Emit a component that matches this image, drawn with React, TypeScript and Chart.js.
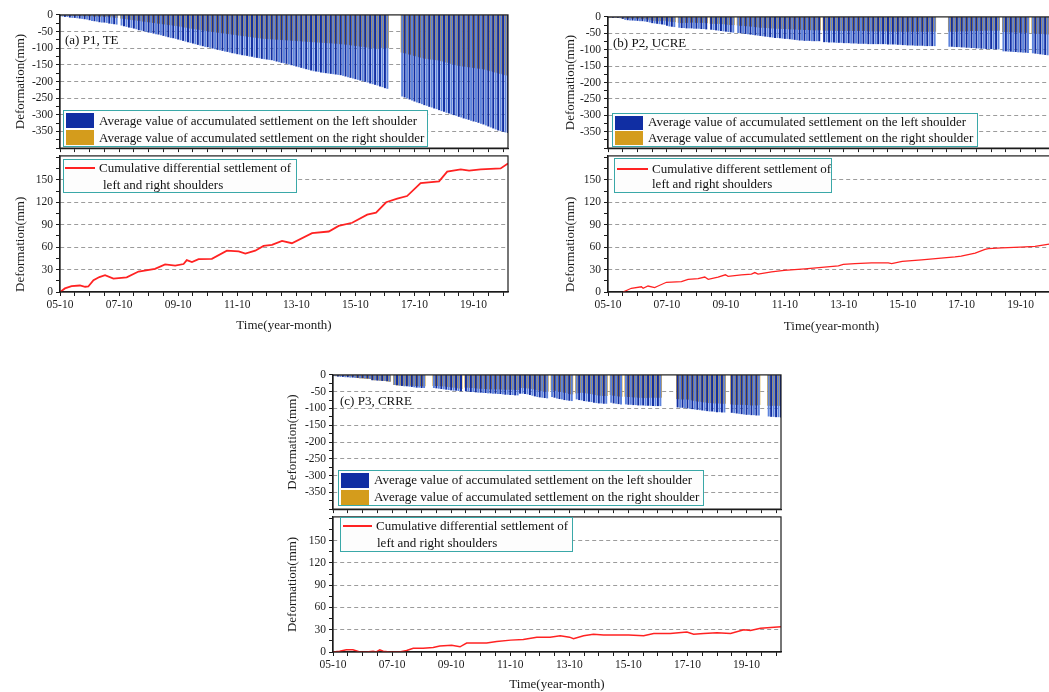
import React, { useEffect, useRef } from 'react';
import { Chart, registerables } from 'chart.js';
Chart.register(...registerables);

const FONT = '"Liberation Serif", "Times New Roman", serif';

// ---------------- data ----------------
// x axis: months since 2005-10
const xTickLabels = ['05-10', '07-10', '09-10', '11-10', '13-10', '15-10', '17-10', '19-10'];
const topTickLabels = [0, -50, -100, -150, -200, -250, -300, -350];
const bottomTickLabels = [0, 30, 60, 90, 120, 150];

// (a) P1, TE — monthly average accumulated settlement (mm)
const leftA = [
  -3, -4, -5, -5, -7, -8, -8, -9, -10, -11, -12, -13,
  -15, -17, -18, -19, -21, -22, -22, -23, -25, -26, -27, -28,
  null, -31, -33, -35, -37, -38, -40, -42, -45, -46, -48, -50,
  -52, -53, -55, -57, -58, -60, -62, -64, -66, -68, -69, -71,
  -73, -75, -77, -79, -81, -83, -85, -87, -89, -91, -93, -95,
  -96, -98, -100, -102, -104, -105, -107, -109, -110, -112, -114, -115,
  -117, -118, -120, -121, -122, -124, -125, -127, -128, -129, -131, -132,
  -133, -134, -135, -137, -139, -141, -143, -144, -146, -148, -150, -152,
  -154, -156, -158, -160, -162, -164, -166, -168, -169, -170, -172, -173,
  -174, -175, -176, -177, -178, -179, -180, -182, -184, -186, -188, -190,
  -192, -194, -196, -198, -200, -202, -205, -207, -209, -211, -214, -216,
  -219, -221, null, null, null, null, null, -244, -247, -250, -253, -256,
  -259, -262, -264, -267, -270, -272, -275, -277, -280, -282, -285, -288,
  -290, -293, -295, -298, -300, -302, -305, -307, -310, -312, -314, -317,
  -319, -321, -323, -326, -328, -331, -334, -337, -340, -343, -346, -348,
  -350, -352, -354,
];
const rightA = [
  -1, -1, -1, -1, -2, -2, -2, -2, -2, -3, -3, -3,
  -3, -3, -4, -4, -4, -5, -5, -5, -6, -6, -7, -8,
  null, -10, -11, -12, -13, -14, -15, -16, -17, -18, -19, -20,
  -21, -22, -23, -24, -25, -26, -27, -28, -29, -30, -31, -32,
  -33, -34, -36, -37, -38, -40, -41, -42, -43, -44, -46, -47,
  -48, -49, -50, -51, -52, -53, -54, -55, -56, -57, -58, -59,
  -60, -61, -62, -63, -64, -65, -66, -67, -68, -69, -70, -71,
  -71, -72, -72, -73, -73, -74, -74, -75, -75, -76, -76, -77,
  -77, -78, -78, -79, -79, -80, -80, -81, -81, -82, -82, -83,
  -83, -84, -84, -85, -85, -86, -87, -87, -88, -89, -90, -91,
  -92, -93, -94, -95, -96, -97, -98, -99, -100, -100, -99, -98,
  -98, -99, null, null, null, null, null, -112, -114, -116, -118, -120,
  -122, -124, -126, -128, -130, -131, -132, -133, -134, -135, -136, -138,
  -140, -142, -144, -146, -148, -150, -152, -153, -154, -155, -156, -157,
  -158, -159, -160, -161, -162, -164, -166, -168, -170, -172, -174, -176,
  -178, -180, -182,
];
const diffMonthsA = [0, 2, 4.7, 8.1, 10.2, 11.5, 13.6, 16, 18.3, 21.7, 27.1, 31.9, 38.6, 42.7, 46.8, 50.2, 51.5, 53.6, 56.3, 61.7, 67.8, 72.6, 75.3, 79.3, 82.7, 86.1, 90.2, 94.2, 102.4, 109.2, 113.2, 118.7, 124.8, 128.4, 132.5, 137, 141, 146.5, 154, 157.3, 162.8, 166.2, 170.9, 179, 182];
const diffA = [0, 4.8, 7.8, 8.7, 7, 7.4, 15.7, 20, 22.6, 17.8, 19.6, 27.4, 30.9, 37, 35.2, 37.4, 42.6, 40, 43.9, 44.3, 55.2, 54.3, 51.3, 55.2, 61.7, 63, 68.3, 65.2, 78.7, 80.9, 88.3, 92.6, 103.5, 106, 120, 124.8, 128.3, 145.7, 147.9, 161, 164, 162.2, 164, 165.3, 171.8];

// (b) P2, UCRE
const leftB = [
  -1, -1, -2, -2, -2, -3, -5, -8, -9, -10, -10, -11,
  -11, -12, -12, -13, -14, -16, -18, -19, -20, -21, -22, -23,
  -26, -28, -29, -30, null, -32, -33, -33, -34, -34, -34, -35,
  -35, -35, -36, -36, -37, null, -38, -39, -40, -41, -42, -43,
  -44, -45, -46, -47, null, -48, -49, -50, -51, -52, -53, -54,
  -55, -56, -57, -58, -59, -60, -61, -62, -63, -63, -64, -65,
  -66, -66, -67, -68, -69, -70, -71, -71, -72, -72, -72, -73,
  -73, -73, -73, null, -76, -76, -77, -77, -77, -78, -78, -78,
  -79, -79, -79, -80, -80, -80, -81, -81, -81, -81, -82, -82,
  -82, -82, -82, -82, -82, -82, -83, -83, -83, -83, -84, -84,
  -85, -85, -86, -86, -86, -87, -87, -87, -87, -88, -88, -88,
  -88, -88, null, null, null, null, null, -90, -90, -91, -91, -91,
  -92, -92, -93, -93, -94, -94, -95, -95, -96, -96, -97, -97,
  -97, -98, -98, -98, null, -104, -104, -105, -105, -106, -106, -107,
  -107, -108, -108, -109, null, -110, -111, -112, -113, -114, -115, -116,
  -117, -118, -119,
];
const rightB = [
  -1, -1, -1, -1, -1, -2, -4, -4, -4, -4, -4, -4,
  -4, -5, -6, -6, -6, -8, -10, -11, -12, -12, -11, -10,
  -12, -13, -14, -15, null, -17, -18, -17, -17, -17, -16, -16,
  -17, -17, -17, -17, -18, null, -20, -20, -20, -20, -21, -21,
  -22, -23, -24, -24, null, -25, -26, -26, -27, -28, -28, -29,
  -30, -31, -32, -32, -33, -33, -34, -34, -35, -35, -35, -36,
  -36, -36, -37, -37, -37, -38, -38, -38, -39, -39, -39, -40,
  -40, -40, -40, null, -41, -41, -41, -41, -41, -42, -42, -42,
  -42, -42, -42, -42, -42, -42, -42, -42, -42, -42, -43, -43,
  -43, -43, -43, -43, -43, -43, -43, -44, -44, -44, -44, -44,
  -44, -44, -44, -44, -44, -44, -44, -44, -44, -44, -44, -44,
  -44, -44, null, null, null, null, null, -44, -44, -44, -44, -43,
  -43, -43, -43, -43, -42, -42, -42, -42, -42, -41, -41, -41,
  -41, -41, -41, -41, null, -45, -45, -46, -46, -46, -46, -47,
  -47, -47, -47, -48, null, -49, -50, -50, -51, -51, -52, -52,
  -53, -53, -54,
];
const diffMonthsB = [6.1, 9.5, 13.6, 14.3, 16.3, 19, 20.4, 23.8, 29.9, 32.6, 36.7, 39.4, 40.8, 44.8, 47.8, 48.9, 54.3, 58.4, 59.8, 61.1, 66.6, 71.7, 80.2, 87, 93.8, 95.8, 100.5, 107.3, 114.1, 115.5, 119.8, 127.7, 134.5, 141.3, 143.8, 149.5, 153.5, 154.9, 160.3, 167.8, 173.9, 179.6, 182];
const diffB = [0, 5, 7, 5, 8, 6, 8, 13, 14, 17, 18, 20, 17, 20, 23, 21, 23, 24, 26, 24, 27, 29, 31, 33, 35, 37, 38, 39, 39, 38, 41, 43, 45, 47, 48, 52, 57, 58, 59, 60, 61, 64, 65];

// (c) P3, CRRE
const leftC = [
  -2, -3, -4, -5, -5, -6, -6, -7, -7, -8, -8, -9,
  -9, -10, -10, -11, -15, -15, -16, -16, -17, -17, -18, -19,
  null, -29, -30, -31, -32, -33, -33, -34, -35, -36, -37, -37,
  -38, -38, null, null, null, -38, -39, -40, -41, -42, -43, -44,
  -45, -46, -46, -47, -48, null, -48, -49, -50, -50, -51, -52,
  -52, -53, -53, -54, -54, -55, -55, -56, -56, -57, -58, -58,
  -59, -59, -60, -60, -55, -55, -56, -57, -59, -61, -63, -65,
  -66, -67, -68, -69, null, -65, -67, -69, -71, -72, -74, -75,
  -76, -77, null, -72, -74, -75, -77, -78, -79, -80, -82, -83,
  -84, -84, -85, -85, null, -82, -84, -85, -86, -87, null, -87,
  -88, -88, -89, -89, -90, -90, -90, -91, -91, -91, -92, -92,
  -92, -92, null, null, null, null, null, null, -96, -97, -97, -98,
  -99, -100, -101, -102, -103, -104, -105, -106, -107, -108, -108, -109,
  -110, -110, -111, -111, null, null, -112, -113, -114, -115, -116, -117,
  -118, -118, -119, -119, -120, -120, null, null, null, -123, -124, -124,
  -125, -125, -126,
];
const rightC = [
  -2, -2, -3, -2, -2, -3, -3, -4, -4, -6, -8, -9,
  -9, -10, -10, -11, -14, -15, -14, -16, -16, -17, -18, -19,
  null, -29, -30, -30, -31, -31, -31, -31, -31, -32, -32, -32,
  -33, -33, null, null, null, -32, -32, -32, -33, -33, -34, -35,
  -36, -37, -37, -39, -41, null, -37, -37, -38, -38, -39, -40,
  -40, -41, -41, -42, -42, -42, -42, -42, -42, -43, -43, -43,
  -43, -43, -44, -44, -38, -38, -39, -39, -40, -41, -43, -45,
  -46, -47, -48, -49, null, -45, -46, -47, -49, -50, -52, -53,
  -56, -57, null, -54, -53, -52, -53, -54, -55, -56, -58, -59,
  -61, -61, -62, -62, null, -59, -61, -62, -63, -64, null, -64,
  -65, -65, -66, -66, -67, -67, -68, -68, -67, -67, -67, -67,
  -67, -67, null, null, null, null, null, null, -71, -72, -72, -72,
  -72, -73, -75, -77, -78, -79, -80, -81, -82, -83, -83, -84,
  -84, -84, -85, -85, null, null, -87, -88, -88, -88, -88, -88,
  -89, -89, -90, -90, -90, -89, null, null, null, -91, -91, -91,
  -91, -91, -92,
];
const diffMonthsC = [0, 2.7, 5.4, 8.1, 10.9, 13.6, 16.3, 17.6, 19, 20.4, 23.1, 27.1, 29.9, 32.6, 36.6, 40.7, 43.4, 48.2, 51.6, 54.3, 58.3, 62.4, 66.5, 72.2, 77.3, 82.8, 88.2, 92.3, 96.1, 97.7, 101.8, 105.8, 109.9, 120.1, 126.2, 130.3, 137, 143.8, 146.5, 150.6, 156, 161.5, 166.9, 169.6, 173.7, 182];
const diffC = [0, 1, 3, 3, 0, 0, 1, 0, 3, 1, 0, 0, 2, 5, 5, 6, 8, 9, 7, 12, 12, 12, 14, 16, 17, 20, 20, 22, 20, 18, 22, 24, 23, 23, 22, 25, 25, 27, 24, 25, 26, 25, 30, 29, 32, 34];

const X_MAX = 182;
const LINE_MAX = 182;

// ---------------- styles / geometry ----------------
const BLUE_DARK = '#102ea3';
const BLUE_LIGHT = '#5d83dc';
const ORANGE = '#d49c1c';
const RED = '#ff2222';
const TEAL = '#3aa8a8';
const INK = '#1c1c1c';
const GRID = '#9c9c9c';
const CLEAR = 'rgba(0,0,0,0)';

const LEFT_LABEL = 'Average value of accumulated settlement on the left shoulder';
const RIGHT_LABEL = 'Average value of accumulated settlement on the right shoulder';

const panels = [
  {
    id: 'a', title: '(a) P1, TE', titlePos: [65, 40],
    left: leftA, right: rightA, dm: diffMonthsA, dv: diffA,
    L: 60, R: 508, T1: 13, B1: 152, B2: 292, yTitleOff: 39, bottomAlign: 'start', xTitleC: 325, lw: 1.8,
    barLeg: { box: [63, 110, 365, 37], mL: 66, mW: 28, mT: [113, 130], mH: 15, tL: 99, tC: [121, 137.5] },
    lineLeg: { box: [63, 159, 234, 34], line: [65, 95, 168], t1: [99, 168], t2: [103, 184.5], label: 'Cumulative differential settlement of' },
  },
  {
    id: 'b', title: '(b) P2, UCRE', titlePos: [613, 43],
    left: leftB, right: rightB, dm: diffMonthsB, dv: diffB,
    L: 608, R: 1055, T1: 15, B1: 152, B2: 292, yTitleOff: 37, bottomAlign: 'start', xTitleC: 326, lw: 1.3,
    barLeg: { box: [612, 113, 366, 34], mL: 615, mW: 28, mT: [116, 131], mH: 14, tL: 648, tC: [121.7, 137.7] },
    lineLeg: { box: [614, 158, 218, 35], line: [617, 648, 168.5], t1: [652, 168.5], t2: [652, 184.3], label: 'Cumulative different settlement of' },
  },
  {
    id: 'c', title: '(c) P3, CRRE', titlePos: [340, 401],
    left: leftC, right: rightC, dm: diffMonthsC, dv: diffC,
    L: 333, R: 781, T1: 373, B1: 513, B2: 652, yTitleOff: 40, bottomAlign: 'center', xTitleC: 684, lw: 1.5,
    barLeg: { box: [338, 470, 366, 36], mL: 341, mW: 28, mT: [473, 490], mH: 15, tL: 374, tC: [480, 496.7] },
    lineLeg: { box: [340, 517, 233, 35], line: [343, 372, 526], t1: [376, 526], t2: [377, 543], label: 'Cumulative differential settlement of' },
  },
];

const AXW = 60;
const PAD_R = 8;

const framePlugin = {
  id: 'frame',
  afterDraw(chart: any) {
    const { ctx, chartArea: a } = chart;
    ctx.save();
    ctx.strokeStyle = INK;
    ctx.lineWidth = 1.2;
    ctx.strokeRect(a.left, a.top, a.right - a.left, a.bottom - a.top);
    ctx.restore();
  },
};

function xScale(showLabels: boolean, H: number) {
  return {
    type: 'linear',
    min: 0,
    max: X_MAX,
    offset: false,
    grid: {
      offset: false,
      drawOnChartArea: false,
      tickLength: 4,
      tickWidth: 1,
      tickColor: (c: any) => (c.tick && c.tick.value % 6 === 0 ? INK : CLEAR),
    },
    border: { display: true, color: INK, width: 1.2 },
    ticks: {
      display: showLabels,
      stepSize: 6,
      includeBounds: false,
      autoSkip: false,
      maxRotation: 0,
      minRotation: 0,
      padding: 2,
      color: INK,
      font: { family: FONT, size: 11.5 },
      callback: (v: number) => (v % 24 === 0 ? xTickLabels[v / 24] ?? '' : ''),
    },
    title: {
      display: showLabels,
      text: 'Time(year-month)',
      color: INK,
      font: { family: FONT, size: 13 },
      padding: 0,
    },
    afterFit: (s: any) => {
      s.height = H;
    },
  };
}

function yScale(min: number, max: number, step: number, labels: number[], align: string, titlePad: number) {
  return {
    type: 'linear',
    min,
    max,
    grid: {
      drawOnChartArea: true,
      lineWidth: 1,
      tickLength: 4,
      tickWidth: 1,
      color: (c: any) =>
        c.tick && c.tick.value !== 0 && labels.includes(c.tick.value) ? GRID : CLEAR,
      tickColor: (c: any) => (c.tick && c.tick.value % step === 0 ? INK : CLEAR),
    },
    border: { display: true, color: INK, width: 1.2, dash: [4, 3] },
    ticks: {
      stepSize: step,
      includeBounds: false,
      autoSkip: false,
      padding: 3,
      color: INK,
      font: { family: FONT, size: 11.5 },
      callback: (v: number) => (labels.includes(v) ? String(v) : ''),
    },
    title: {
      display: true,
      text: 'Deformation(mm)',
      color: INK,
      align,
      font: { family: FONT, size: 13 },
      padding: { top: titlePad, bottom: 0 },
    },
    afterFit: (s: any) => {
      s.width = AXW;
    },
  };
}

function ChartCanvas({ rect, build }: { rect: number[]; build: () => any }) {
  const ref = useRef<HTMLCanvasElement>(null);
  useEffect(() => {
    const chart = new Chart(ref.current as HTMLCanvasElement, build());
    return () => chart.destroy();
  }, []);
  const [l, t, w, h] = rect;
  return (
    <canvas
      ref={ref}
      width={w}
      height={h}
      style={{ position: 'absolute', left: l, top: t, width: w, height: h }}
    />
  );
}

const toPts = (arr: (number | null)[]) => arr.map((v, i) => ({ x: i, y: v }));

function Panel({ p }: { p: any }) {
  const titlePad = AXW - p.yTitleOff - 7.8;
  const topPad = 8;
  const topH = 6;
  const topRect = [p.L - AXW, p.T1 - topPad, p.R - p.L + AXW + PAD_R, p.B1 - p.T1 + topPad + topH];
  const botPad = 6;
  const botH = Math.round(p.xTitleC + 8 - p.B2);
  const botRect = [p.L - AXW, p.B1 - botPad, p.R - p.L + AXW + PAD_R, p.B2 - p.B1 + botPad + botH];

  const buildTop = () => ({
    type: 'bar',
    data: {
      datasets: [
        {
          label: LEFT_LABEL,
          data: toPts(p.left),
          backgroundColor: (c: any) => (c.dataIndex % 2 ? BLUE_LIGHT : BLUE_DARK),
          borderWidth: 0,
          barThickness: 1.3,
          grouped: false,
          order: 1,
        },
        {
          label: RIGHT_LABEL,
          data: toPts(p.right),
          backgroundColor: ORANGE,
          borderWidth: 0,
          barThickness: 2.2,
          grouped: false,
          order: 2,
        },
      ],
    },
    options: {
      animation: false,
      responsive: false,
      events: [],
      layout: { padding: { left: 0, top: topPad, right: PAD_R, bottom: 0 } },
      plugins: { legend: { display: false }, tooltip: { enabled: false } },
      scales: {
        x: xScale(false, topH),
        y: yScale(-400, 0, 25, topTickLabels, 'center', titlePad),
      },
    },
    plugins: [framePlugin],
  });

  const buildBottom = () => ({
    type: 'line',
    data: {
      datasets: [
        {
          label: p.lineLeg.label + ' left and right shoulders',
          data: p.dm.map((m: number, i: number) => ({ x: m, y: p.dv[i] })),
          borderColor: RED,
          borderWidth: p.lw,
          pointRadius: 0,
          tension: 0,
          fill: false,
        },
      ],
    },
    options: {
      animation: false,
      responsive: false,
      events: [],
      layout: { padding: { left: 0, top: botPad, right: PAD_R, bottom: 0 } },
      plugins: { legend: { display: false }, tooltip: { enabled: false } },
      scales: {
        x: xScale(true, botH),
        y: yScale(0, LINE_MAX, 15, bottomTickLabels, p.bottomAlign, titlePad),
      },
    },
    plugins: [framePlugin],
  });

  const txt = (left: number, center: number, s: string, key: string) => (
    <div
      key={key}
      style={{
        position: 'absolute',
        left,
        top: center - 8,
        height: 16,
        lineHeight: '16px',
        fontSize: 13,
        fontFamily: FONT,
        color: '#111',
        whiteSpace: 'nowrap',
      }}
    >
      {s}
    </div>
  );

  const bl = p.barLeg;
  const ll = p.lineLeg;
  return (
    <>
      <ChartCanvas rect={topRect} build={buildTop} />
      <ChartCanvas rect={botRect} build={buildBottom} />
      {txt(p.titlePos[0], p.titlePos[1], p.title, 'title')}
      <div
        style={{
          position: 'absolute',
          left: bl.box[0],
          top: bl.box[1],
          width: bl.box[2],
          height: bl.box[3],
          border: `1.5px solid ${TEAL}`,
          background: '#fdfdfd',
          boxSizing: 'border-box',
        }}
      />
      <div style={{ position: 'absolute', left: bl.mL, top: bl.mT[0], width: bl.mW, height: bl.mH, background: BLUE_DARK }} />
      <div style={{ position: 'absolute', left: bl.mL, top: bl.mT[1], width: bl.mW, height: bl.mH, background: ORANGE }} />
      {txt(bl.tL, bl.tC[0], LEFT_LABEL, 'l1')}
      {txt(bl.tL, bl.tC[1], RIGHT_LABEL, 'l2')}
      <div
        style={{
          position: 'absolute',
          left: ll.box[0],
          top: ll.box[1],
          width: ll.box[2],
          height: ll.box[3],
          border: `1.5px solid ${TEAL}`,
          background: '#fdfdfd',
          boxSizing: 'border-box',
        }}
      />
      <div
        style={{
          position: 'absolute',
          left: ll.line[0],
          top: ll.line[2] - 1,
          width: ll.line[1] - ll.line[0],
          height: 2,
          background: RED,
        }}
      />
      {txt(ll.t1[0], ll.t1[1], ll.label, 'd1')}
      {txt(ll.t2[0], ll.t2[1], 'left and right shoulders', 'd2')}
    </>
  );
}

export default function App() {
  return (
    <div
      style={{
        position: 'fixed',
        left: 0,
        top: 0,
        width: 1049,
        height: 692,
        overflow: 'hidden',
        background: '#ffffff',
      }}
    >
      {panels.map((p) => (
        <Panel key={p.id} p={p} />
      ))}
    </div>
  );
}
